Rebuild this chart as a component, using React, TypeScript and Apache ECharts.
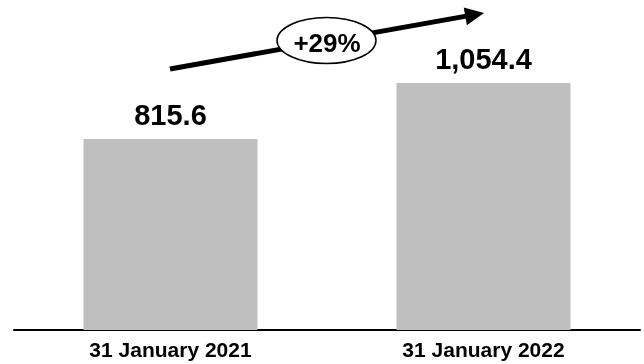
import React, { useEffect, useRef } from "react";
import * as echarts from "echarts";

const categories = ["31 January 2021", "31 January 2022"];
const values = [815.6, 1054.4];

const fmt = (v: number) =>
  v.toLocaleString("en-US", { minimumFractionDigits: 1, maximumFractionDigits: 1 });

export default function App() {
  const ref = useRef<HTMLDivElement>(null);
  useEffect(() => {
    if (!ref.current) return;
    const chart = echarts.init(ref.current, null, { renderer: "svg" });
    const growth = Math.round((values[1] / values[0] - 1) * 100);
    const font = "'Liberation Sans', Arial, Helvetica, sans-serif";
    // arrow geometry
    const x1 = 170, y1 = 69, tipX = 484, tipY = 13;
    const dx = tipX - x1, dy = tipY - y1;
    const len = Math.sqrt(dx * dx + dy * dy);
    const ux = dx / len, uy = dy / len;
    const px = -uy, py = ux;
    const headLen = 19, headHalf = 9;
    const bx = tipX - ux * headLen, by = tipY - uy * headLen;
    chart.setOption({
      animation: false,
      grid: { left: 14, right: 4, top: 49, bottom: 34 },
      xAxis: {
        type: "category",
        data: categories,
        axisTick: { show: false },
        axisLine: { show: true, lineStyle: { color: "#000", width: 2 } },
        axisLabel: {
          color: "#000",
          fontSize: 21,
          fontWeight: "bold",
          fontFamily: font,
          margin: 9,
        },
      },
      yAxis: {
        type: "value",
        min: 0,
        max: 1200,
        show: false,
        splitLine: { show: false },
      },
      series: [
        {
          type: "bar",
          data: values,
          barWidth: 174,
          itemStyle: { color: "#bfbfbf" },
          label: {
            show: true,
            position: "top",
            distance: 10,
            color: "#000",
            fontSize: 29,
            fontWeight: "bold",
            fontFamily: font,
            formatter: (p: any) => fmt(p.value),
          },
        },
      ],
      graphic: [
        {
          type: "line",
          shape: { x1, y1, x2: bx + ux * 1, y2: by + uy * 1 },
          style: { stroke: "#000", lineWidth: 5 },
          z: 10,
        },
        {
          type: "polygon",
          shape: {
            points: [
              [tipX, tipY],
              [bx + px * headHalf, by + py * headHalf],
              [bx - px * headHalf, by - py * headHalf],
            ],
          },
          style: { fill: "#000" },
          z: 10,
        },
        {
          type: "ellipse",
          shape: { cx: 326.5, cy: 40.5, rx: 49.5, ry: 23 },
          style: { fill: "#fff", stroke: "#000", lineWidth: 1.5 },
          z: 11,
        },
        {
          type: "text",
          x: 327,
          y: 43,
          style: {
            text: `+${growth}%`,
            fill: "#000",
            fontSize: 26,
            fontWeight: "bold",
            fontFamily: font,
            align: "center",
            verticalAlign: "middle",
          },
          z: 12,
        },
      ],
    });
    return () => chart.dispose();
  }, []);
  return (
    <div
      ref={ref}
      style={{ position: "fixed", left: 0, top: 0, width: 644, height: 364 }}
    />
  );
}
